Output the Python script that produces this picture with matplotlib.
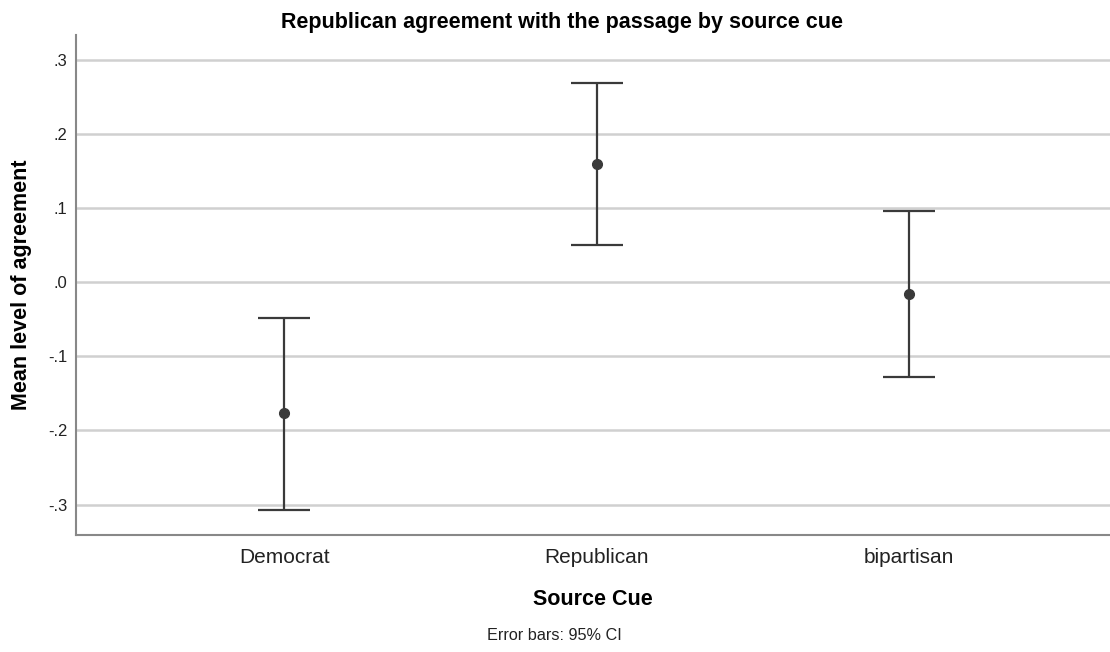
import matplotlib
matplotlib.use("Agg")
import matplotlib.pyplot as plt
import numpy as np

categories = ["Democrat", "Republican", "bipartisan"]
means = [-0.177, 0.159, -0.016]
ci_lower = [-0.307, 0.050, -0.128]
ci_upper = [-0.048, 0.268, 0.096]
yticks = [-0.3, -0.2, -0.1, 0.0, 0.1, 0.2, 0.3]
ytick_labels = ["-.3", "-.2", "-.1", ".0", ".1", ".2", ".3"]

plt.rcParams['font.family'] = ['Liberation Sans', 'DejaVu Sans']

fig = plt.figure(figsize=(11.1, 6.52), dpi=100)
ax = fig.add_axes([0.0685, 0.1794, 0.9315, 0.7666])

x = np.arange(len(categories))
m = np.array(means)
lo = m - np.array(ci_lower)
hi = np.array(ci_upper) - m
ax.errorbar(x, m, yerr=[lo, hi], fmt='o', color='#3a3a3a', ecolor='#3a3a3a',
            elinewidth=1.6, capsize=19, capthick=1.6, markersize=7, zorder=3)

ax.set_xlim(-0.666, 2.643)
ax.set_ylim(-0.341, 0.333)
ax.set_yticks(yticks)
ax.set_yticklabels(ytick_labels, fontsize=12, color='#222222')
ax.set_xticks(x)
ax.set_xticklabels(categories, fontsize=15, color='#222222')
ax.tick_params(axis='both', length=0)
ax.tick_params(axis='y', pad=6)
ax.tick_params(axis='x', pad=9)
ax.yaxis.grid(True, color='#d0d0d0', linewidth=1.8)
ax.set_axisbelow(True)
for s in ['top', 'right']:
    ax.spines[s].set_visible(False)
for s in ['left', 'bottom']:
    ax.spines[s].set_color('#888888')
    ax.spines[s].set_linewidth(1.5)

ax.set_ylabel("Mean level of agreement", fontsize=15.5, fontweight='bold', labelpad=12)
ax.set_xlabel("Source Cue", fontsize=15.5, fontweight='bold', labelpad=16)
fig.text(0.506, 0.966, "Republican agreement with the passage by source cue",
         ha='center', va='center', fontsize=15.5, fontweight='bold')
fig.text(0.499, 0.026, "Error bars: 95% CI", ha='center', va='center', fontsize=11.7, color='#222222')

fig.savefig("out.png", dpi=100)
